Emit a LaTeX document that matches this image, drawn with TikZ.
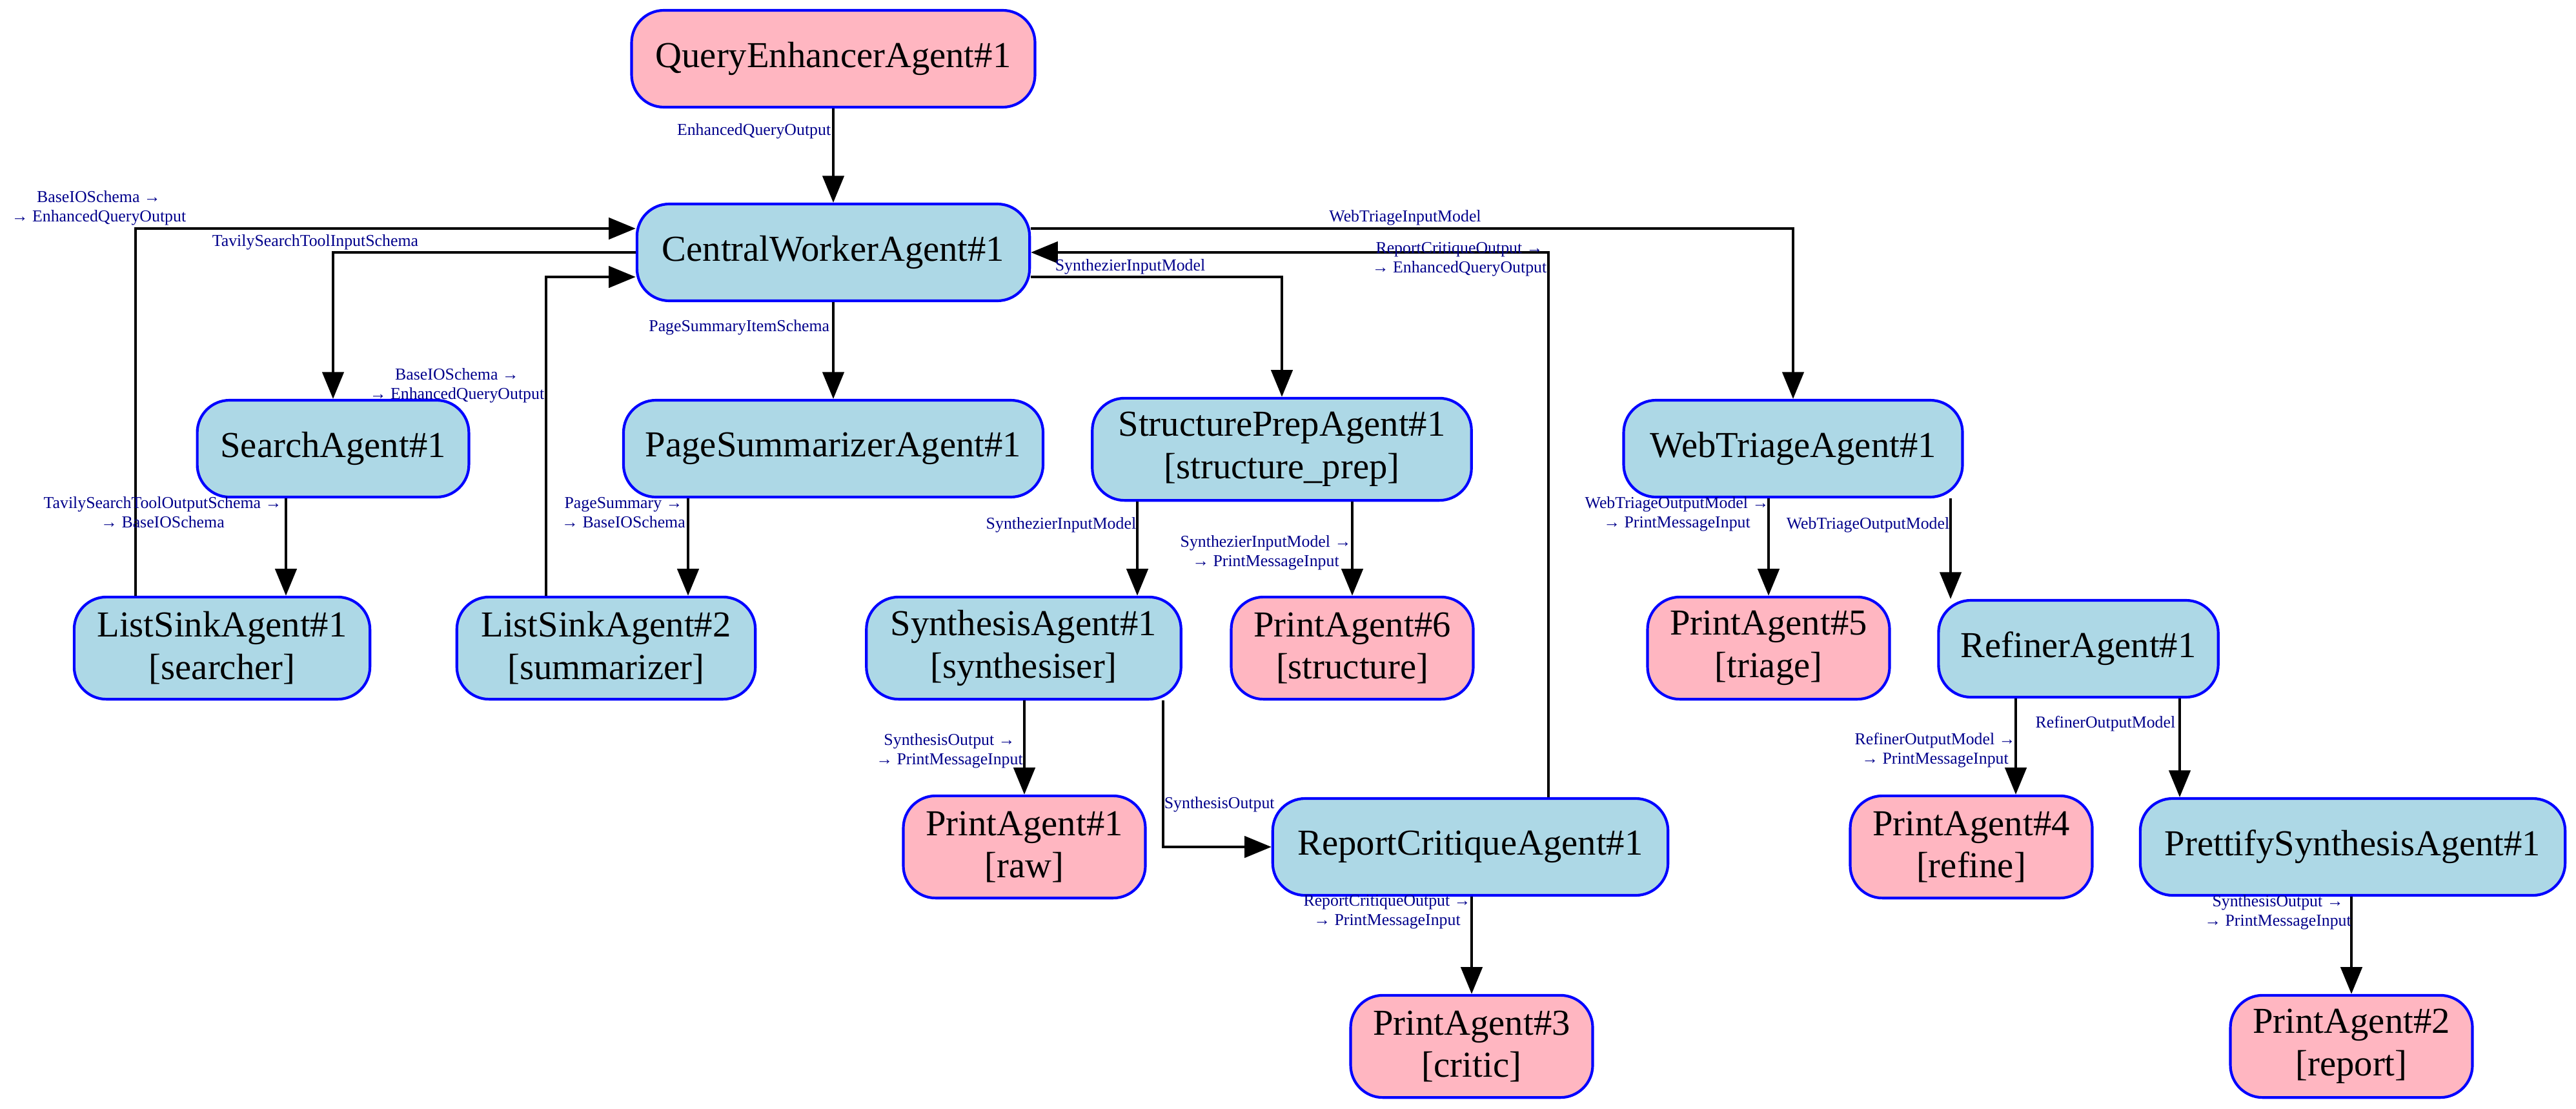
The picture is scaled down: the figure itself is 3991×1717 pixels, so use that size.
\documentclass[tikz,border=0pt]{standalone}
\usepackage{fontspec}
\setmainfont{Liberation Serif}
\usetikzlibrary{arrows.meta}
\definecolor{nodeblue}{HTML}{ADD8E6}
\definecolor{nodepink}{HTML}{FFB6C1}
\definecolor{lblcol}{HTML}{00008B}
\begin{document}
\begin{tikzpicture}[x=0.24pt, y=-0.24pt,
  agent/.style={draw=blue, line width=1pt, rounded corners=12pt, minimum height=36pt, inner sep=0pt, font=\fontsize{13.6}{15.8}\selectfont, align=center},
  work/.style={agent, fill=nodeblue},
  prnt/.style={agent, fill=nodepink},
  tall/.style={minimum height=38pt},
  edge/.style={line width=0.9pt, -{Triangle[length=10pt,width=8pt]}},
  lbl/.style={text=lblcol, font=\fontsize{6.2}{7.2}\selectfont, inner sep=0pt, align=center},
]
\fill[white] (0,0) rectangle (3991,1717);
\path[use as bounding box] (0,0) rectangle (3991,1717);

% row 1
\node[prnt, minimum width=150pt] (QE) at (1291,91) {QueryEnhancerAgent\#1};
% row 2
\node[work, minimum width=146pt] (CW) at (1291,391) {CentralWorkerAgent\#1};
% row 3
\node[work, minimum width=101pt] (SA) at (516,695) {SearchAgent\#1};
\node[work, minimum width=156pt] (PS) at (1291,695) {PageSummarizerAgent\#1};
\node[work, tall, minimum width=141pt] (SP) at (1986,696) {StructurePrepAgent\#1\\{[structure\_prep]}};
\node[work, minimum width=126pt] (WT) at (2778,695) {WebTriageAgent\#1};
% row 4
\node[work, tall, minimum width=110pt] (LS1) at (344,1004) {ListSinkAgent\#1\\{[searcher]}};
\node[work, tall, minimum width=111pt] (LS2) at (939,1004) {ListSinkAgent\#2\\{[summarizer]}};
\node[work, tall, minimum width=117pt] (SY) at (1586,1004) {SynthesisAgent\#1\\{[synthesiser]}};
\node[prnt, tall, minimum width=90pt] (PA6) at (2095,1004) {PrintAgent\#6\\{[structure]}};
\node[prnt, tall, minimum width=90pt] (PA5) at (2740,1004) {PrintAgent\#5\\{[triage]}};
\node[work, minimum width=104pt] (RF) at (3220,1005) {RefinerAgent\#1};
% row 5
\node[prnt, tall, minimum width=90pt] (PA1) at (1587,1312) {PrintAgent\#1\\{[raw]}};
\node[work, minimum width=147pt] (RC) at (2278,1312) {ReportCritiqueAgent\#1};
\node[prnt, tall, minimum width=90pt] (PA4) at (3054,1312) {PrintAgent\#4\\{[refine]}};
\node[work, minimum width=158pt] (PR) at (3645,1312) {PrettifySynthesisAgent\#1};
% row 6
\node[prnt, tall, minimum width=90pt] (PA3) at (2280,1621) {PrintAgent\#3\\{[critic]}};
\node[prnt, tall, minimum width=90pt] (PA2) at (3643,1621) {PrintAgent\#2\\{[report]}};

% edges
\draw[edge] (QE.south) -- (CW.north);
\draw[edge] (CW.west) -| (SA.north);
\draw[edge] (210,0 |- LS1.north) |- (CW.west |- 0,354);
\draw[edge] (846,0 |- LS2.north) |- (CW.west |- 0,429);
\draw[edge] (CW.south) -- (PS.north);
\draw[edge] (CW.east |- 0,429) -| (SP.north);
\draw[edge] (2399,0 |- RC.north) |- (CW.east);
\draw[edge] (CW.east |- 0,354) -| (WT.north);
\draw[edge] (443,0 |- SA.south) -- (443,0 |- LS1.north);
\draw[edge] (1066,0 |- PS.south) -- (1066,0 |- LS2.north);
\draw[edge] (1762,0 |- SP.south) -- (1762,0 |- SY.north);
\draw[edge] (PA6.north |- SP.south) -- (PA6.north);
\draw[edge] (PA5.north |- WT.south) -- (PA5.north);
\draw[edge] (3022,0 |- WT.south) -- (3022,0 |- RF.north);
\draw[edge] (PA1.north |- SY.south) -- (PA1.north);
\draw[edge] (1802,0 |- SY.south) |- (RC.west);
\draw[edge] (PA3.north |- RC.south) -- (PA3.north);
\draw[edge] (3123,0 |- RF.south) -- (3123,0 |- PA4.north);
\draw[edge] (3377,0 |- RF.south) -- (3377,0 |- PR.north);
\draw[edge] (PA2.north |- PR.south) -- (PA2.north);

% labels
\node[lbl, anchor=east] (l1) at (1288,203) {EnhancedQueryOutput};
\node[lbl, anchor=west] (l2) at (328,375) {TavilySearchToolInputSchema};
\node[lbl] (l3) at (153,322) {BaseIOSchema →\\→ EnhancedQueryOutput};
\node[lbl] (l4) at (708,597) {BaseIOSchema →\\→ EnhancedQueryOutput};
\node[lbl, anchor=east] (l5) at (1286,507) {PageSummaryItemSchema};
\node[lbl] (l6) at (1751,413) {SynthezierInputModel};
\node[lbl] (l7) at (2261,402) {ReportCritiqueOutput →\\→ EnhancedQueryOutput};
\node[lbl] (l8) at (2177,337) {WebTriageInputModel};
\node[lbl] (l9) at (252,794) {TavilySearchToolOutputSchema →\\→ BaseIOSchema};
\node[lbl] (l10) at (966,794) {PageSummary →\\→ BaseIOSchema};
\node[lbl, anchor=east] (l11) at (1761,813) {SynthezierInputModel};
\node[lbl] (l12) at (1961,856) {SynthezierInputModel →\\→ PrintMessageInput};
\node[lbl] (l13) at (2598,796) {WebTriageOutputModel →\\→ PrintMessageInput};
\node[lbl, anchor=east] (l14) at (3021,813) {WebTriageOutputModel};
\node[lbl] (l15) at (1471,1163) {SynthesisOutput →\\→ PrintMessageInput};
\node[lbl, anchor=west] (l16) at (1803,1246) {SynthesisOutput};
\node[lbl] (l17) at (2149,1413) {ReportCritiqueOutput →\\→ PrintMessageInput};
\node[lbl] (l18) at (2998,1162) {RefinerOutputModel →\\→ PrintMessageInput};
\node[lbl, anchor=east] (l19) at (3371,1121) {RefinerOutputModel};
\node[lbl] (l20) at (3529,1413) {SynthesisOutput →\\→ PrintMessageInput};
\end{tikzpicture}
\end{document}
